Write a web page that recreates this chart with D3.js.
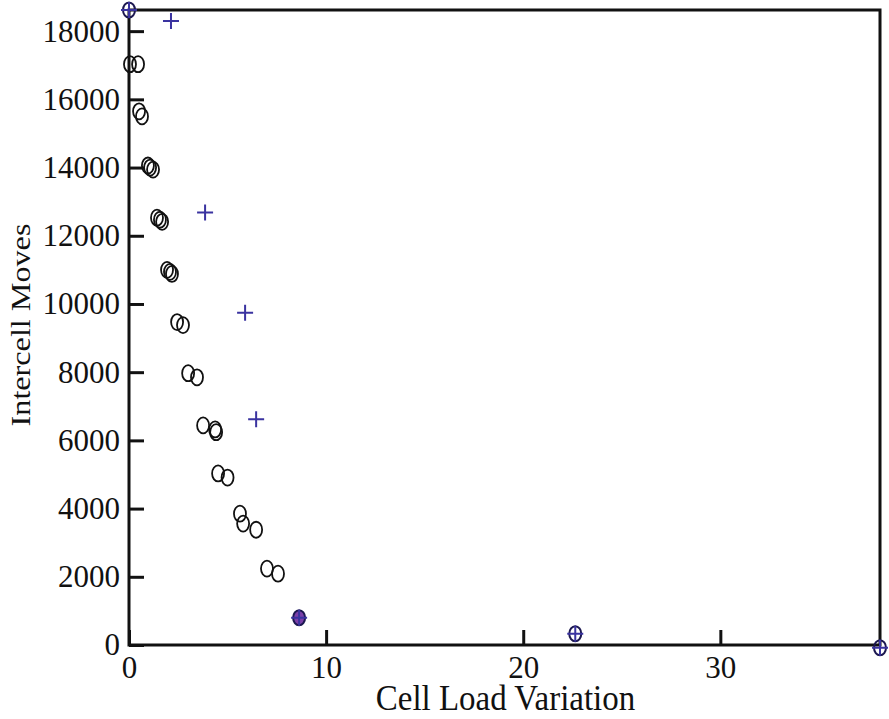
<!DOCTYPE html>
<html>
<head>
<meta charset="utf-8">
<script src="https://cdn.jsdelivr.net/npm/d3@7.9.0/dist/d3.min.js"></script>
<style>
  body { margin: 0; background: #fff; }
  svg { display: block; }
  text { font-family: "Liberation Serif", "DejaVu Serif", serif; fill: #111; }
</style>
</head>
<body>
<svg id="chart" width="889" height="719"></svg>
<script>
// Black open circles (cell load variation, intercell moves)
const circleX = [0.05, 0.46, 0.51, 0.66, 0.96, 1.07, 1.22, 1.42, 1.57, 1.68,
  1.93, 2.08, 2.18, 2.44, 2.74, 3.0, 3.45, 3.76, 4.37, 4.42,
  4.52, 5.0, 5.63, 5.79, 6.45, 7.0, 7.56];
const circleY = [17030, 17030, 15650, 15500, 14060, 14000, 13940, 12530, 12470, 12410,
  11000, 10940, 10880, 9470, 9380, 7970, 7850, 6440, 6320, 6240,
  5030, 4910, 3850, 3560, 3380, 2240, 2090];

// Blue plus markers
const plusX = [0, 2.13, 3.86, 5.89, 6.45, 8.63, 22.64, 38.1];
const plusY = [18620, 18300, 12680, 9740, 6620, 800, 330, -80];

// Points where both series coincide (circle with plus)
const bothX = [0, 8.63, 22.64, 38.1];
const bothY = [18620, 800, 330, -80];

const xTicks = [0, 10, 20, 30];
const yTicks = [0, 2000, 4000, 6000, 8000, 10000, 12000, 14000, 16000, 18000];

const margin = { left: 129, right: 9, top: 10, bottom: 74 };
const width = 889, height = 719;
const svg = d3.select('#chart');

const x = d3.scaleLinear().domain([0, 38.1]).range([margin.left, width - margin.right]);
const y = d3.scaleLinear().domain([0, 18620]).range([height - margin.bottom, margin.top]);

// frame
svg.append('rect')
  .attr('x', x(0)).attr('y', y(18620))
  .attr('width', x(38.1) - x(0)).attr('height', y(0) - y(18620))
  .attr('fill', 'none').attr('stroke', '#111').attr('stroke-width', 3);

// x axis (inward ticks)
const xAxis = svg.append('g')
  .attr('transform', `translate(0,${y(0)})`)
  .call(d3.axisBottom(x).tickValues(xTicks).tickSize(-15).tickPadding(11).tickFormat(d3.format('d')));
xAxis.select('.domain').remove();
xAxis.selectAll('.tick line').attr('stroke', '#111').attr('stroke-width', 3);
xAxis.selectAll('.tick text').style('font-size', '31px').attr('font-family', null).attr('fill', '#111');

// y axis
const yAxis = svg.append('g')
  .attr('transform', `translate(${x(0)},0)`)
  .call(d3.axisLeft(y).tickValues(yTicks).tickSize(-15).tickPadding(9).tickFormat(d3.format('d')));
yAxis.select('.domain').remove();
yAxis.selectAll('.tick line').attr('stroke', '#111').attr('stroke-width', 3);
yAxis.selectAll('.tick text').style('font-size', '31px').attr('font-family', null).attr('fill', '#111');

// axis titles
svg.append('text')
  .attr('transform', `translate(${(x(0) + x(38.1)) / 2 + 1},710) scale(1,1.1)`)
  .attr('text-anchor', 'middle')
  .style('font-size', '33px')
  .text('Cell Load Variation');

svg.append('text')
  .attr('transform', `translate(30,325) rotate(-90) scale(1.15,1)`)
  .attr('text-anchor', 'middle')
  .style('font-size', '28px')
  .text('Intercell Moves');

// circles
const circles = d3.zip(circleX, circleY);
svg.append('g').selectAll('ellipse')
  .data(circles)
  .join('ellipse')
  .attr('cx', d => x(d[0]))
  .attr('cy', d => y(d[1]))
  .attr('rx', 6)
  .attr('ry', 8)
  .attr('fill', 'none')
  .attr('stroke', '#111')
  .attr('stroke-width', 1.8);

// coincident points: circle outline (purple fill on the one at 8.63)
const both = d3.zip(bothX, bothY);
svg.append('g').selectAll('ellipse')
  .data(both)
  .join('ellipse')
  .attr('cx', d => x(d[0]))
  .attr('cy', d => y(d[1]))
  .attr('rx', 6)
  .attr('ry', 7.5)
  .attr('fill', d => d[0] === 8.63 ? '#7b3fa8' : 'none')
  .attr('stroke', '#1c1850')
  .attr('stroke-width', 2);

// pluses
const pluses = d3.zip(plusX, plusY);
svg.append('g').selectAll('path')
  .data(pluses)
  .join('path')
  .attr('d', d => {
    const cx = x(d[0]), cy = y(d[1]), s = 8;
    return `M${cx - s},${cy}H${cx + s}M${cx},${cy - s}V${cy + s}`;
  })
  .attr('stroke', '#3a33a0')
  .attr('stroke-width', 2)
  .attr('fill', 'none');
</script>
</body>
</html>
